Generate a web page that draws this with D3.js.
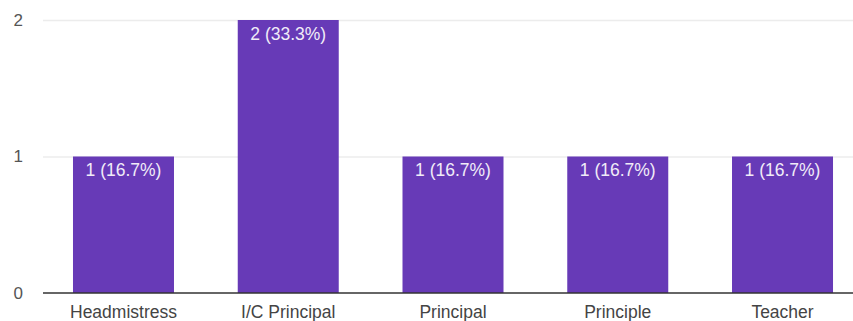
<!DOCTYPE html>
<html>
<head>
<meta charset="utf-8">
<script src="https://cdn.jsdelivr.net/npm/d3@7"></script>
<style>
  body { margin: 0; background: #fff; }
  svg { display: block; font-family: Arial, "Liberation Sans", sans-serif; }
</style>
</head>
<body>
<div id="vizContainer"></div>
<script>
let w = 853;
let h = 321;

let categories = ["Headmistress", "I/C Principal", "Principal", "Principle", "Teacher"];
let counts = [1, 2, 1, 1, 1];
let labels = ["1 (16.7%)", "2 (33.3%)", "1 (16.7%)", "1 (16.7%)", "1 (16.7%)"];
let yTicks = [0, 1, 2];

let viz = d3.select("#vizContainer")
  .append("svg")
  .attr("width", w)
  .attr("height", h)
  ;

let plotLeft = 43;
let plotTop = 20;
let plotBottom = 293;

let xScale = d3.scaleBand()
  .domain(categories)
  .range([plotLeft, 863])
  .paddingInner(0.387)
  .paddingOuter(0.182);

let yScale = d3.scaleLinear().domain([0, 2]).range([plotBottom, plotTop]);

// gridlines
viz.append("g").attr("class", "grid")
  .selectAll("line")
  .data(yTicks.filter(d => d > 0))
  .enter().append("line")
  .attr("x1", plotLeft)
  .attr("x2", w)
  .attr("y1", d => yScale(d) + 0.5)
  .attr("y2", d => yScale(d) + 0.5)
  .attr("stroke", "#ececec")
  .attr("stroke-width", 1.5)
  ;

// y tick labels
viz.append("g").attr("class", "yLabels")
  .selectAll("text")
  .data(yTicks)
  .enter().append("text")
  .attr("x", 23)
  .attr("y", d => yScale(d))
  .attr("dy", "0.35em")
  .attr("text-anchor", "end")
  .attr("font-size", 17)
  .attr("fill", "#555")
  .text(d => d)
  ;

// bars
let bars = viz.append("g").attr("class", "bars")
  .selectAll("g")
  .data(categories.map((c, i) => ({ cat: c, value: counts[i], label: labels[i] })))
  .enter().append("g");

bars.append("rect")
  .attr("x", d => xScale(d.cat))
  .attr("y", d => yScale(d.value))
  .attr("width", xScale.bandwidth())
  .attr("height", d => plotBottom - yScale(d.value))
  .attr("fill", "#673ab7")
  ;

bars.append("text")
  .attr("x", d => xScale(d.cat) + xScale.bandwidth() / 2)
  .attr("y", d => yScale(d.value) + 19.5)
  .attr("text-anchor", "middle")
  .attr("font-size", 17.5)
  .attr("fill", "#f1ecf8")
  .text(d => d.label)
  ;

// baseline
viz.append("line")
  .attr("x1", plotLeft)
  .attr("x2", w)
  .attr("y1", plotBottom)
  .attr("y2", plotBottom)
  .attr("stroke", "#333")
  .attr("stroke-width", 1.5)
  ;

// x labels
let xAxisGroup = viz.append("g")
  .attr("transform", "translate(0," + plotBottom + ")")
  .call(d3.axisBottom(xScale).tickSize(0).tickPadding(10));
xAxisGroup.select(".domain").remove();
xAxisGroup.selectAll("text")
  .attr("y", 25)
  .attr("dy", 0)
  .attr("font-size", 17.5)
  .attr("font-family", "Arial, 'Liberation Sans', sans-serif")
  .attr("fill", "#444")
  ;
</script>
</body>
</html>
